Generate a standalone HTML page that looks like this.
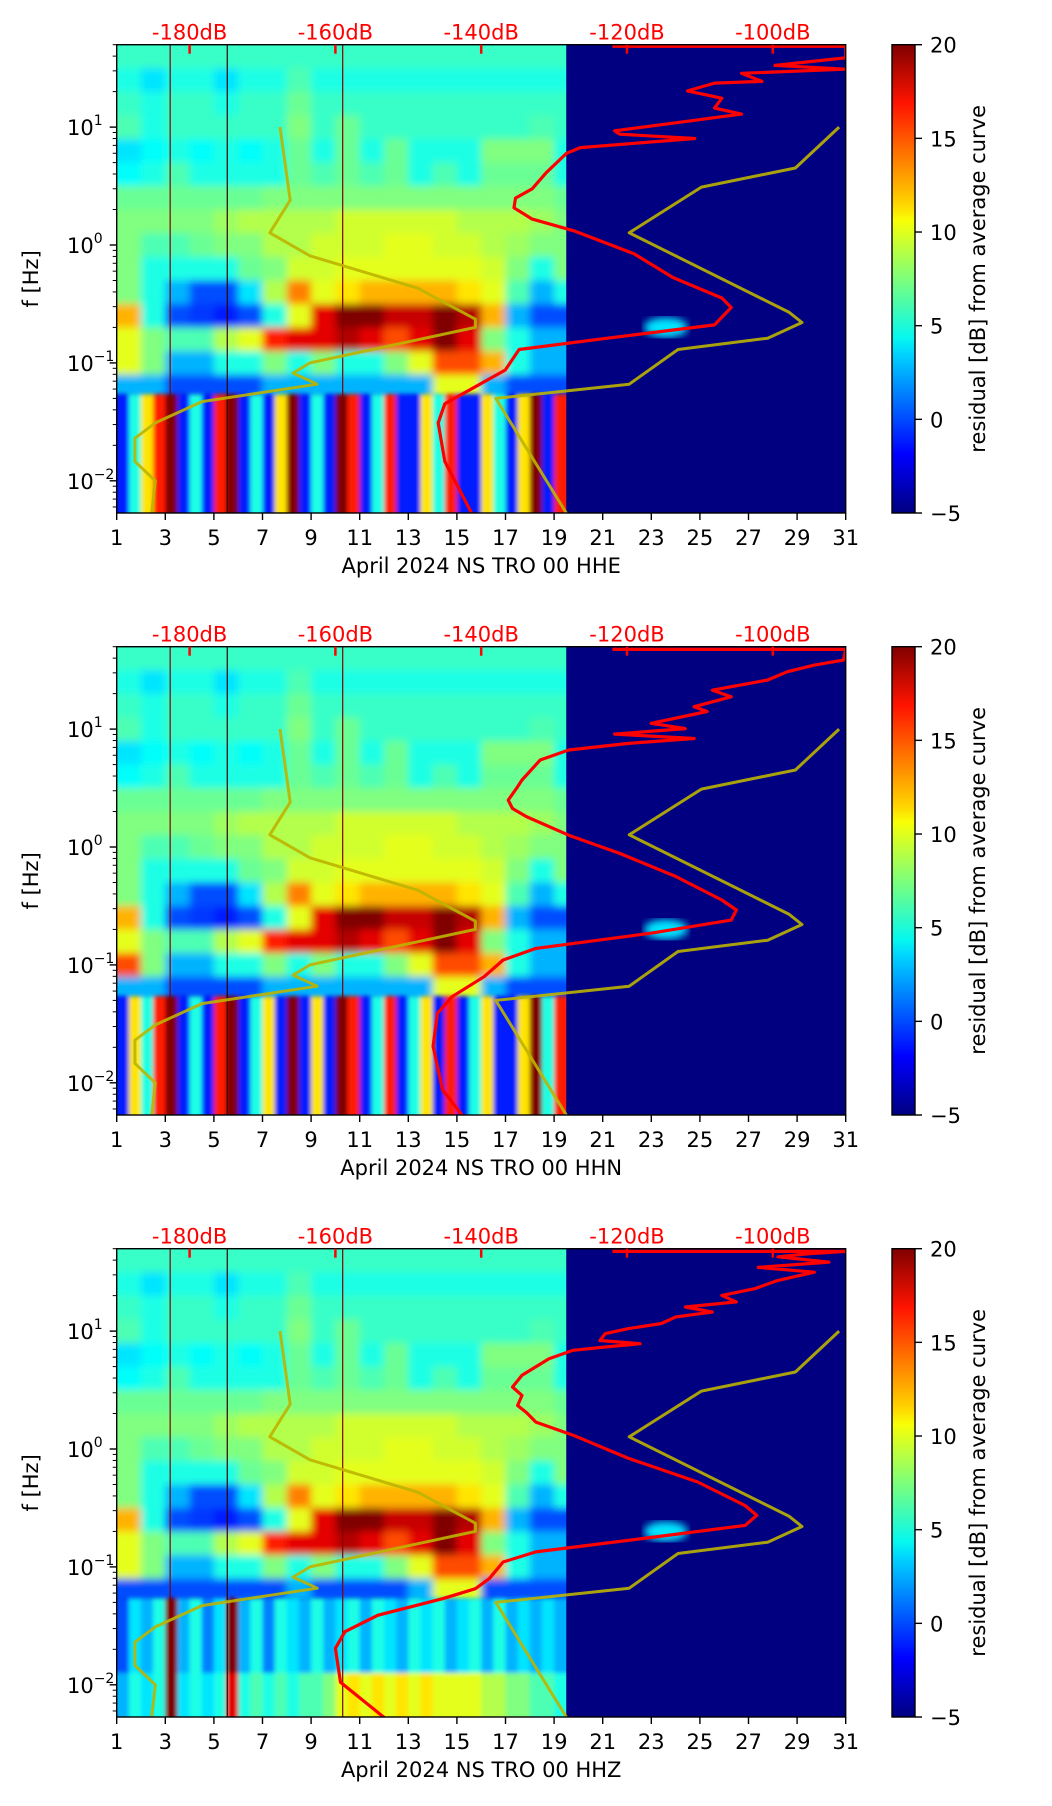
<!DOCTYPE html>
<html><head><meta charset="utf-8">
<style>
html,body{margin:0;padding:0;background:#fff;}
svg{display:block;font-family:"DejaVu Sans","Liberation Sans",sans-serif;}
</style></head>
<body>
<svg id="fig" width="1052" height="1806" viewBox="0 0 1052 1806" xmlns="http://www.w3.org/2000/svg">
<defs>
<linearGradient id="jetGrad" x1="0" y1="1" x2="0" y2="0">
<stop offset="0" stop-color="#000080"/><stop offset="0.11" stop-color="#0000f1"/><stop offset="0.125" stop-color="#0000ff"/>
<stop offset="0.34" stop-color="#00d4ff"/><stop offset="0.375" stop-color="#06f8ef"/><stop offset="0.5" stop-color="#7dff7a"/>
<stop offset="0.625" stop-color="#f8ff06"/><stop offset="0.66" stop-color="#ffd400"/><stop offset="0.875" stop-color="#ff1300"/>
<stop offset="1" stop-color="#800000"/>
</linearGradient>
<filter id="soft" x="-5%" y="-5%" width="110%" height="110%"><feGaussianBlur stdDeviation="4"/></filter>
<filter id="soft2" x="-5%" y="-5%" width="110%" height="110%"><feGaussianBlur stdDeviation="2"/></filter>
</defs>
</svg>
<script>
// ---------- data ----------
const dayTicks = [1,3,5,7,9,11,13,15,17,19,21,23,25,27,29,31];
const dbTicks = [-180,-160,-140,-120,-100];
const cbTicks = [-5,0,5,10,15,20];
const yDecades = [-2,-1,0,1];
const panelNames = ['HHE','HHN','HHZ'];
const panelTops = [44.7, 646.7, 1248.7];

// residual levels (0..10 -> -5..20 dB); rows: 0.2-decade bands from 50 Hz down; cols: days 1..19
const gridBase = [
 [4.3,4.3,4.3,4.3,4.3,4.3,4.3,4.3,4.3,4.3,4.3,4.3,4.3,4.3,4.3,4.3,4.3,4.3,4.3],
 [4,3.5,4,4,3.5,4,4,4.5,4,4,4,4,4,4,4,4,4,4,4],
 [4.3,4,4.3,4.3,4,4.3,4.3,4.8,4.3,4.3,4.3,4.3,4.3,4.3,4.3,4.3,4.3,4.3,4.3],
 [4.5,4,4.3,4.3,4.3,4.3,4.3,5,4.3,4.8,4.3,4.3,4.3,4.3,4.3,4.3,4.3,4.5,4.3],
 [3.5,3.8,4,3.8,4,3.8,4,4.8,4,4.8,4,4.8,4,4,4,5,5,5,4],
 [3.8,4,4.5,4,4,4,4,4.8,4.5,4.8,4.5,4.8,4,4.5,4,4.8,4.8,4.8,4],
 [4.8,4.8,4.8,4.8,4.8,4.8,5,5,5,5,5,5,5,5,5,5,5,5,4.8],
 [5,5,5,5,5.3,5.5,5.5,5.5,5.5,5.8,5.8,5.8,5.8,5.8,5.5,5.5,5.5,5.3,5],
 [5,4.5,4.5,4.8,5,5,5.5,5.5,5.8,5.8,5.8,6,6,5.8,5.8,5.5,5.3,5,5],
 [5,4,4,4,4,4.8,5,5.8,5.8,6,6,6,6,6,6,5.8,5,4,5],
 [5,4,3,2,2,3.5,5.5,7.5,6,6.5,7,7,7,7,6.5,6,4.5,3,4],
 [7,4,2,1.8,1.5,2,4,6,9,10,10,9.3,9.3,10,9.5,7,3,2,2],
 [6,5,4.5,4.5,5.5,6,8.5,9,9,9.5,9,8,9,10,9,5,4,3,3],
 [6,5,3,3,4,4,5,4,5,4,4,5,6,8,8,7,4,3,3],
 [3,3,2,2,2,2,3,3,3,3,3,3,3,6,6,3,2,2,2]
];
// low-frequency band (< 0.05 Hz): half-day columns, days 1..19.5
const lowRows1 = [1.5,4,6.5,8.5,10,1.5,4,1.5,8.5,10,1.5,4,1.5,6.5,10,1.5,4,1.5,10,8.5,1.5,4,8.5,1.5,1.5,6.5,4,8.5,1.5,1.5,6.5,4,1.5,6.5,10,1.5,8.5];
const lowRows2 = [1.5,6.5,4,8.5,10,1.5,4,1.5,8.5,10,1.5,4,6.5,1.5,10,1.5,6.5,1.5,10,8.5,1.5,4,8.5,1.5,4,6.5,1.5,8.5,1.5,4,6.5,1.5,1.5,6.5,10,4,8.5];
const lowRows3 = [2,3.5,3,4,10,3,4,2.5,3.5,10,3,4,2.5,4,3.5,3,4,3,3.5,4,3,4,3.5,3,4,3.5,4,3,3.5,4,3,4,3,3.5,3,3.5,3];
const lowRows3b = [3,4,3.5,4,10,3.5,4,3.5,4,9,4,4.5,4,4.5,4,4.5,4.5,5,6,6.5,6,6.5,6,6.5,6,6.5,6,6,6,6,5.5,5.5,5,5,4.5,4.5,4];
const row13p2 = [8,5,3,3,4,4,5,4,5,4,4,5,6,8,8,7,4,3,3];
const row14p3 = [2,2,2,2,2,2,2,3,2,2,2,2,3,6,6,2,2,2,2];

const darkLineDays = [3.2,5.55,10.3];
const blobDay = [23.6];
const blobF = [0.2];
const blobLevel = [3.5];

// red curves: PSD (dB) vs frequency (Hz)
const redDb1 = [-141.3,-145,-145.9,-145,-136.7,-134.8,-122.7,-108,-105.7,-107,-113.7,-119,-127.3,-133,-135.5,-135.3,-133,-131.1,-128.3,-126.4,-110.7,-121,-121.7,-113.7,-104.3,-108,-107,-111.7,-108,-101.5,-104.3,-90,-99.7,-90,-90,-90,-122];
const redF1  = [0.0053,0.0146,0.031,0.045,0.087,0.13,0.162,0.21,0.295,0.355,0.53,0.84,1.32,1.66,2.07,2.5,3.0,4.1,6.0,6.7,8.0,8.7,9.3,10.8,12.9,14.5,17.6,20.3,23.6,24.4,28.6,31,33.4,38.7,44,48.5,48.5];
const redDb2 = [-142.4,-145.3,-146.6,-146,-144,-139.6,-137,-132.5,-116.6,-105.7,-105,-107,-113.3,-121,-128,-133.8,-135.7,-136.3,-135,-134.4,-131.9,-128,-119.8,-110.8,-121.7,-112,-116.7,-109,-110.8,-105.7,-108.3,-100.7,-98,-94.3,-90.3,-90,-122];
const redF2  = [0.0051,0.0087,0.0204,0.0389,0.0537,0.0794,0.11,0.138,0.186,0.24,0.292,0.355,0.562,0.883,1.26,1.81,2.12,2.5,3.24,3.7,5.47,6.65,7.57,8.32,9.08,10.1,11.2,14.1,15.5,18.8,21.4,26.1,30.7,34.9,38.5,47.4,47.4];
const redDb3 = [-153,-159.3,-160,-158.7,-154.2,-145.3,-140.8,-138.9,-137,-132.5,-117.8,-103.8,-102.2,-103.8,-110.3,-119.8,-127.4,-132.5,-133.8,-135,-134.4,-135.7,-134.4,-130.7,-127.4,-123,-118.2,-123.7,-123,-119.8,-115.3,-113.3,-108.3,-112,-105,-107,-102.5,-99.3,-94.3,-102,-92.3,-99.3,-95,-90,-122];
const redF3  = [0.0051,0.0105,0.0204,0.0282,0.0389,0.0537,0.0653,0.0794,0.11,0.134,0.174,0.225,0.274,0.331,0.525,0.832,1.31,1.69,2.04,2.34,2.85,3.36,4.22,5.83,6.87,7.33,7.82,8.32,9.5,10.5,11.6,13.2,14.5,16,17.7,20.1,22.9,26.9,31.6,34.7,38.5,42.7,45.4,47.4,47.4];

// yellow noise-model curves (dB vs Hz)
const lowModelDb = [-167.6,-166.2,-169,-163.5,-148.7,-140.8,-140.8,-163.5,-165.8,-162.5,-178.3,-184.7,-187.5,-187.5,-184.7,-185.2];
const lowModelF  = [10,2.4,1.27,0.81,0.43,0.235,0.2,0.1,0.082,0.066,0.047,0.031,0.023,0.0146,0.01,0.0053];
const highModelDb = [-90.9,-96.9,-109.8,-119.7,-97.8,-96,-100.7,-113,-119.7,-138,-128.3];
const highModelF  = [10,4.5,3.1,1.27,0.27,0.22,0.162,0.13,0.066,0.05,0.0053];

// ---------- drawing ----------
const NS = 'http://www.w3.org/2000/svg';
const svg = document.getElementById('fig');
const PL = 116.7, PW = 729, PH = 468.3, FMAX = 50, DEC = 117.9;
const CBX = 892, CBW = 23, FS = 21;
function xDay(d){ return PL + (d-1)*PW/30; }
function xDb(db){ return xDay(4 + (db+180)*0.3); }
function yF(top,f){ return top + (Math.log10(FMAX)-Math.log10(f))*DEC; }
function jet(v){
  const t = Math.max(0,Math.min(1,(v+5)/25));
  const c = x => Math.round(255*Math.max(0,Math.min(1,x)));
  return `rgb(${c(1.5-Math.abs(4*t-3))},${c(1.5-Math.abs(4*t-2))},${c(1.5-Math.abs(4*t-1))})`;
}
function lvl(l){ return -5 + 2.5*l; }
function mk(tag, attrs, parent){
  const e = document.createElementNS(NS, tag);
  for (const k in attrs) e.setAttribute(k, attrs[k]);
  (parent||svg).appendChild(e);
  return e;
}

panelTops.forEach((top, p) => {
  const g = mk('g', {});
  
  
  const bottom = top + PH;
  const clipId = 'clip' + p;
  const cp = mk('clipPath', {id: clipId}, g);
  mk('rect', {x: PL, y: top, width: PW, height: PH}, cp);
  const clipL = 'clipL' + p;
  const cpl = mk('clipPath', {id: clipL}, g);
  mk('rect', {x: PL, y: top, width: xDay(19.5)-PL, height: PH}, cpl);

  const bg = mk('rect', {x: PL, y: top, width: PW, height: PH, fill: jet(-5)}, g);
  
  

  const grid = gridBase.map(r => r.slice());
  if (p === 1) grid[13] = row13p2.slice();
  if (p === 2) grid[14] = row14p3.slice();
  for (let r = 15; r < 20; r++) {
    if (p === 0) grid.push(lowRows1.slice());
    else if (p === 1) grid.push(lowRows2.slice());
    else grid.push(r < 18 ? lowRows3.slice() : lowRows3b.slice());
  }
  const wrapL = mk('g', {'clip-path': `url(#${clipL})`}, g);
  const heat = mk('g', {}, wrapL);
  
  
  const heatHi = mk('g', {filter: 'url(#soft)'}, heat);
  const heatLo = mk('g', {filter: 'url(#soft2)'}, heat);
  grid.forEach((row, r) => {
    const lf0 = 1.7 - 0.2*r, lf1 = 1.5 - 0.2*r;
    let y0 = yF(top, Math.pow(10, lf0)), y1 = yF(top, Math.pow(10, lf1));
    if (r === 0) y0 -= 12;
    if (r === grid.length-1) y1 += 12;
    const w = row.length > 20 ? 0.5 : 1;
    const parent = r >= 15 ? heatLo : heatHi;
    if (r === 15) y0 -= 4;
    row.forEach((v, c) => {
      let x0 = xDay(1 + c*w), x1 = xDay(1 + (c+1)*w);
      if (c === 0) x0 -= 12;
      if (c === row.length-1) x1 = xDay(20.5);
      const cell = mk('rect', {x: x0, y: y0, width: x1-x0+0.6, height: y1-y0+0.6, fill: jet(lvl(v))}, parent);
      
      
    });
  });
  darkLineDays.forEach((d, i) => {
    const ln = mk('line', {x1: xDay(d), x2: xDay(d), y1: top, y2: bottom, stroke: i===1 ? '#300000' : '#800000', 'stroke-width': 1.2}, wrapL);
    
    
  });
  const wrap = mk('g', {'clip-path': `url(#${clipId})`}, g);
  blobDay.forEach((d, i) => {
    const el = mk('ellipse', {cx: xDay(d), cy: yF(top, blobF[i]), rx: 22, ry: 10, fill: jet(lvl(blobLevel[i])), filter: 'url(#soft)'}, wrap);
    
    
  });
  [[lowModelDb, lowModelF, 'low-noise-model-curve'], [highModelDb, highModelF, 'high-noise-model-curve']].forEach(([dbs, fs, nm]) => {
    const pts = dbs.map((db, i) => `${xDb(db).toFixed(1)},${yF(top, fs[i]).toFixed(1)}`).join(' ');
    const pl = mk('polyline', {points: pts, fill: 'none', stroke: '#bdb400', 'stroke-opacity': 0.9, 'stroke-width': 3, 'stroke-linejoin': 'round'}, wrap);
    
    
  });
  const rd = [redDb1, redDb2, redDb3][p], rf = [redF1, redF2, redF3][p];
  const rpts = rd.map((db, i) => `${xDb(db).toFixed(1)},${yF(top, rf[i]).toFixed(1)}`).join(' ');
  const rl = mk('polyline', {points: rpts, fill: 'none', stroke: '#ff0000', 'stroke-width': 3.2, 'stroke-linejoin': 'round'}, wrap);
  
  

  const fr = mk('rect', {x: PL, y: top, width: PW, height: PH, fill: 'none', stroke: '#000', 'stroke-width': 1.4}, g);
  
  

  dayTicks.forEach(d => {
    const x = xDay(d);
    mk('line', {x1: x, x2: x, y1: bottom, y2: bottom+7, stroke: '#000', 'stroke-width': 1.4}, g);
    const t = mk('text', {x: x, y: bottom+32, 'text-anchor': 'middle', 'font-size': FS}, g);
    t.textContent = d;
    
    
  });
  const xl = mk('text', {x: PL+PW/2, y: bottom+60, 'text-anchor': 'middle', 'font-size': FS}, g);
  xl.textContent = 'April 2024 NS TRO 00 ' + panelNames[p];
  
  

  dbTicks.forEach(db => {
    const x = xDb(db);
    mk('line', {x1: x, x2: x, y1: top, y2: top+9, stroke: '#ff0000', 'stroke-width': 2.5}, g);
    const t = mk('text', {x: x, y: top-5, 'text-anchor': 'middle', 'font-size': FS, fill: '#ff0000'}, g);
    t.textContent = db + 'dB';
    
    
  });

  yDecades.forEach(e => {
    const y = yF(top, Math.pow(10, e));
    mk('line', {x1: PL-7, x2: PL, y1: y, y2: y, stroke: '#000', 'stroke-width': 1.4}, g);
    const t = mk('text', {x: PL-23, y: y+8, 'text-anchor': 'end', 'font-size': FS}, g);
    t.textContent = '10';
    
    
    const s = mk('text', {x: PL-23, y: y-2, 'text-anchor': 'start', 'font-size': 14}, g);
    s.textContent = e < 0 ? '\u2212' + (-e) : String(e);
    
    
  });
  for (let e = -3; e <= 1; e++) for (let m = 2; m <= 9; m++) {
    const f = m*Math.pow(10, e);
    if (f < 0.0054 || f > 50) continue;
    const y = yF(top, f);
    mk('line', {x1: PL-4, x2: PL, y1: y, y2: y, stroke: '#000', 'stroke-width': 1}, g);
  }
  const yl = mk('text', {x: 0, y: 0, 'text-anchor': 'middle', 'font-size': FS, transform: `translate(38 ${top+PH/2}) rotate(-90)`}, g);
  yl.textContent = 'f [Hz]';
  
  

  const cb = mk('rect', {x: CBX, y: top, width: CBW, height: PH, fill: 'url(#jetGrad)', stroke: '#000', 'stroke-width': 1.4}, g);
  
  
  cbTicks.forEach(v => {
    const y = bottom - (v+5)/25*PH;
    mk('line', {x1: CBX+CBW, x2: CBX+CBW+7, y1: y, y2: y, stroke: '#000', 'stroke-width': 1.4}, g);
    const t = mk('text', {x: CBX+CBW+15, y: y+8, 'font-size': FS}, g);
    t.textContent = v < 0 ? '\u2212' + (-v) : String(v);
    
    
  });
  const cl = mk('text', {x: 0, y: 0, 'text-anchor': 'middle', 'font-size': FS, transform: `translate(985 ${top+PH/2}) rotate(-90)`}, g);
  cl.textContent = 'residual [dB] from average curve';
  
  
});
</script>
</body></html>
